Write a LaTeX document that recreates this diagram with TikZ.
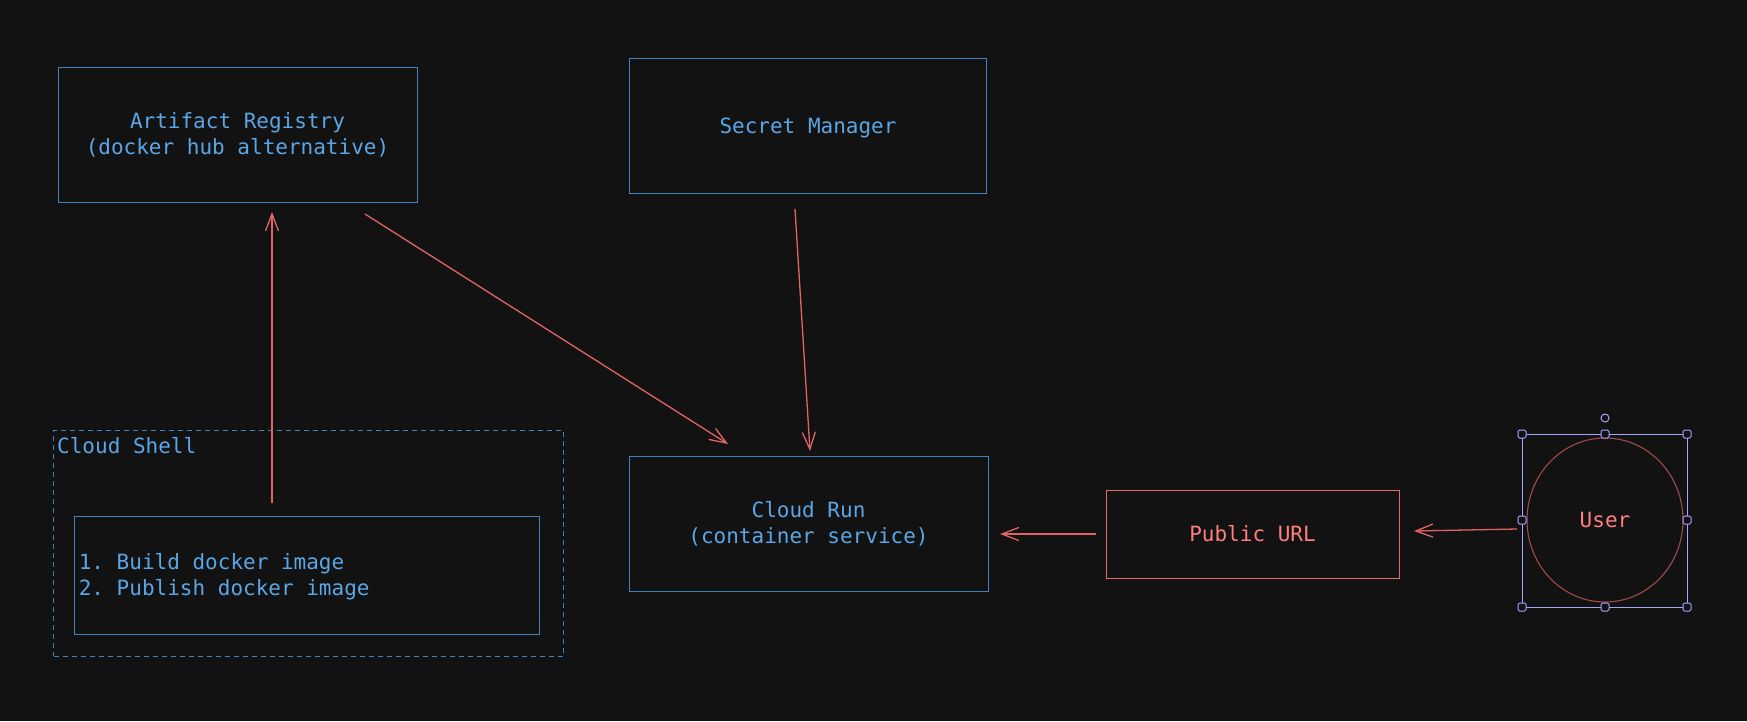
\documentclass[tikz,border=0pt]{standalone}
\usepackage{fontspec}
\setmonofont{DejaVu Sans Mono}
\usetikzlibrary{arrows.meta,shapes.geometric}
\definecolor{bg}{HTML}{121212}
\definecolor{bluetxt}{HTML}{5AA6E6}
\definecolor{blueline}{HTML}{3F82C0}
\definecolor{redline}{HTML}{E06464}
\definecolor{redtxt}{HTML}{FF7F7F}
\definecolor{redbox}{HTML}{E86A6A}
\definecolor{usercirc}{HTML}{A04A4A}
\definecolor{handle}{HTML}{A5A5FF}
\tikzset{
  mono/.style={font=\fontsize{21}{26}\ttfamily},
  box/.style={draw=blueline, line width=1pt, text=bluetxt, align=center, mono, inner sep=0pt},
  redbx/.style={draw=redbox, line width=1pt, text=redtxt, align=center, mono, inner sep=0pt},
  conn/.style={draw=redline, line width=1.3pt, -{Straight Barb[length=17pt,width=13pt,line width=1.3pt]}},
  hnd/.style={draw=handle, fill=bg, line width=1pt, rounded corners=1.5pt, minimum size=8pt, inner sep=0pt},
}
\begin{document}
\begin{tikzpicture}[x=1pt,y=-1pt]
\fill[bg] (0,0) rectangle (1747,721);
\useasboundingbox (0,0) rectangle (1747,721);

\node[box, minimum width=359pt, minimum height=135pt] (ar) at (237.5,134.5) {Artifact Registry\\(docker hub alternative)};
\node[box, minimum width=357.5pt, minimum height=135pt, text depth=0pt] (sm) at (808,125.5) {Secret Manager};
\node[box, minimum width=359pt, minimum height=135pt] (cr) at (808.5,523.5) {Cloud Run\\(container service)};
\node[redbx, minimum width=293pt, minimum height=88pt] (pu) at (1252.5,534) {Public URL};

% Cloud Shell group
\node[draw=blueline, dash pattern=on 5pt off 4pt, line width=1pt, minimum width=509.6pt, minimum height=226pt, inner sep=0pt] (cs) at (308.6,543) {};
\node[anchor=west, inner sep=0pt, text=bluetxt, mono] (cslbl) at (57,446) {Cloud Shell};
\node[box, minimum width=465pt, minimum height=118pt] (steps) at (306.9,575) {};
\node[anchor=west, inner sep=0pt, text=bluetxt, mono, align=left] (stepstxt) at (78.6,577) {1. Build docker image\\2. Publish docker image};

% User
\node[ellipse, draw=usercirc, line width=1.1pt, minimum width=156pt, minimum height=164pt, inner sep=0pt, text=redtxt, mono] (user) at (1605,520) {User};
\draw[handle, line width=1pt] (1522,434) rectangle (1687,607);
\node[hnd] (h1) at (1522,434) {};
\node[hnd] (h2) at (1605,434) {};
\node[hnd] (h3) at (1687,434) {};
\node[hnd] (h4) at (1522,520) {};
\node[hnd] (h5) at (1687,520) {};
\node[hnd] (h6) at (1522,607) {};
\node[hnd] (h7) at (1605,607) {};
\node[hnd] (h8) at (1687,607) {};
\node[circle, draw=handle, fill=bg, line width=1pt, minimum size=8pt, inner sep=0pt] (rot) at (1605,418) {};

% connector end points
\coordinate (a1s) at (272,503);
\coordinate (a1e) at (272,212);
\coordinate (a2s) at (365,214);
\coordinate (a2e) at (728,444);
\coordinate (a3s) at (795,209);
\coordinate (a3e) at (810,451);
\coordinate (a4s) at (1096,534);
\coordinate (a4e) at (1000,534);
\coordinate (a5s) at (1517,529);
\coordinate (a5e) at (1414,531);

\draw[conn] (a1s) -- (a1e);
\draw[conn] (a2s) -- (a2e);
\draw[conn] (a3s) -- (a3e);
\draw[conn] (a4s) -- (a4e);
\draw[conn] (a5s) -- (a5e);
\end{tikzpicture}
\end{document}
